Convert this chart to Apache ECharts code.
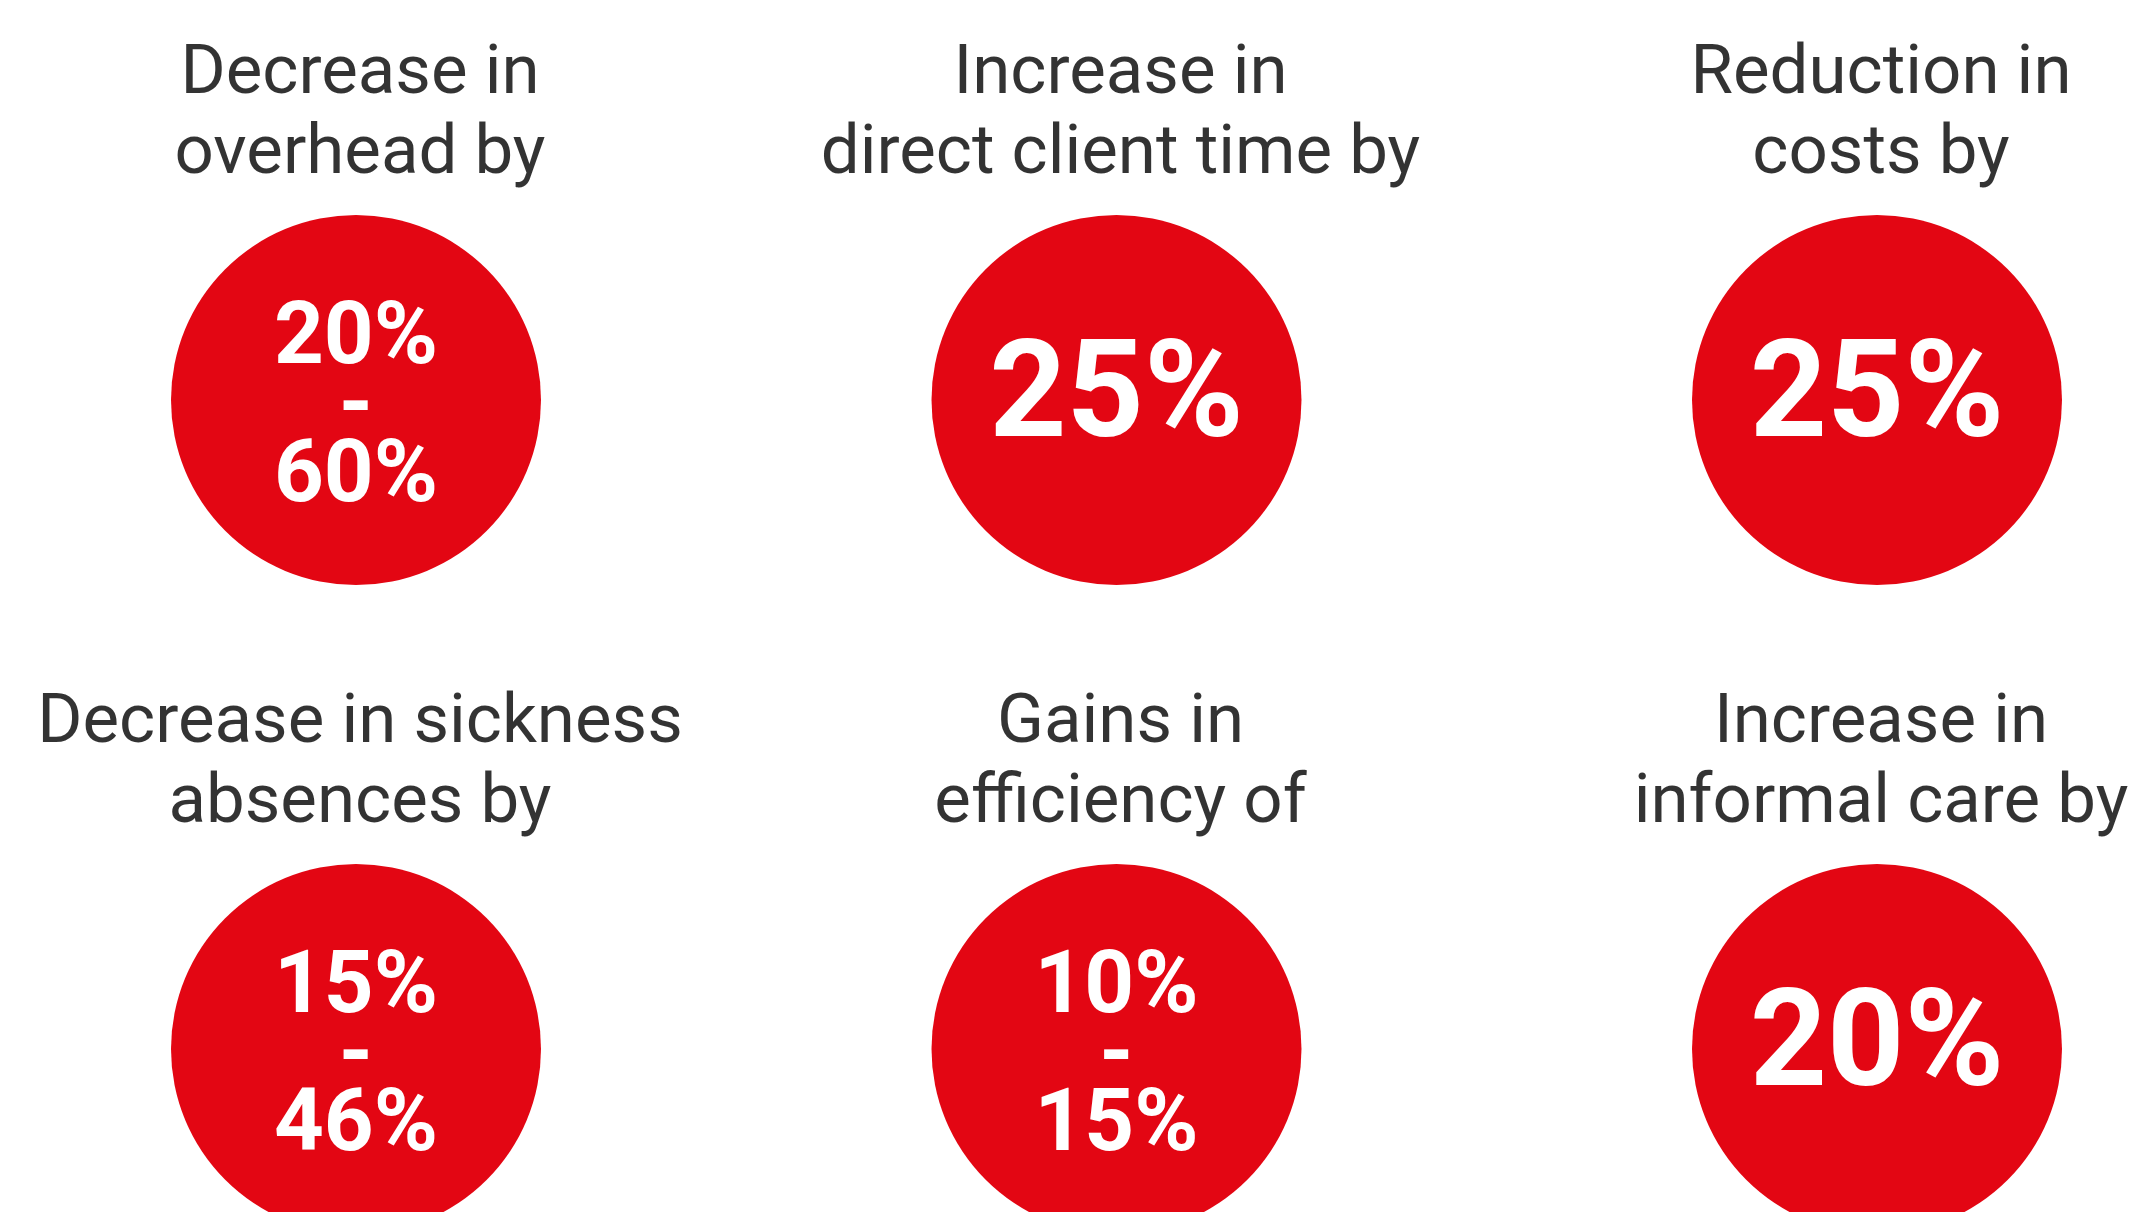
<!DOCTYPE html>
<html>
<head>
<meta charset="utf-8">
<script src="https://cdn.jsdelivr.net/npm/echarts@6/dist/echarts.min.js"></script>
<style>
  html, body { margin: 0; padding: 0; background: #fff; }
  #chart { width: 2135px; height: 1212px; }
</style>
</head>
<body>
<div id="chart"></div>
<script>
// one entry per circle, read left to right, top to bottom
const titles = [
  "Decrease in\noverhead by",
  "Increase in\ndirect client time by",
  "Reduction in\ncosts by",
  "Decrease in sickness\nabsences by",
  "Gains in\nefficiency of",
  "Increase in\ninformal care by"
];
const lowValues = [20, 25, 25, 15, 10, 20];
const highValues = [60, null, null, 46, 15, null];
const columns = [0, 1, 2, 0, 1, 2];
const rows = [0, 0, 0, 1, 1, 1];

const RED = "#e30613";

const points = titles.map((t, i) => ({
  value: [columns[i], rows[i]],
  title: t,
  low: lowValues[i],
  high: highValues[i]
}));

function numberLabel(p) {
  if (p.high != null) {
    return "{r|" + p.low + "%}\n{r|-}\n{r|" + p.high + "%}";
  }
  return "{s|" + p.low + "%}";
}

const chart = echarts.init(document.getElementById("chart"));

const option = {
  animation: false,
  backgroundColor: "#ffffff",
  grid: { left: 356, right: 258, top: 400, bottom: 163 },
  xAxis: { type: "value", min: 0, max: 2, show: false },
  yAxis: { type: "value", min: 0, max: 1, inverse: true, show: false },
  series: [
    {
      // red circles with the figures
      type: "scatter",
      clip: false,
      symbol: "circle",
      symbolSize: 370,
      itemStyle: { color: RED, opacity: 1 },
      data: points.map((p) => ({
        value: p.value,
        label: { offset: p.high != null ? [0, 10] : [0, 2] }
      })),
      label: {
        show: true,
        position: "inside",
        formatter: (params) => numberLabel(points[params.dataIndex]),
        rich: {
          r: {
            fontFamily: "Roboto",
            fontWeight: "bold",
            fontSize: 87,
            lineHeight: 69,
            color: "#ffffff",
            align: "center"
          },
          s: {
            fontFamily: "Roboto",
            fontWeight: "bold",
            fontSize: 135,
            lineHeight: 140,
            color: "#ffffff",
            align: "center"
          }
        }
      },
      emphasis: { disabled: true }
    },
    {
      // headings above each circle
      type: "scatter",
      clip: false,
      symbolSize: 1,
      itemStyle: { color: "rgba(0,0,0,0)" },
      data: points.map((p) => p.value),
      label: {
        show: true,
        position: "inside",
        offset: [4, -284],
        formatter: (params) => points[params.dataIndex].title,
        fontFamily: "Roboto",
        fontWeight: "normal",
        fontSize: 69,
        lineHeight: 80,
        color: "#000000",
        align: "center"
      },
      emphasis: { disabled: true }
    }
  ]
};

chart.setOption(option);
</script>
</body>
</html>
